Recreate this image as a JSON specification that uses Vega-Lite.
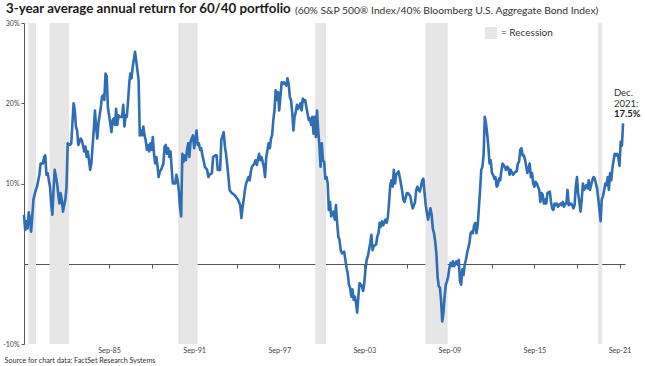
{
  "$schema": "https://vega.github.io/schema/vega-lite/v6.json",
  "width": 601,
  "height": 321,
  "autosize": {"type": "none"},
  "padding": {"left": 24, "top": 23, "right": 20, "bottom": 22},
  "background": "white",
  "config": {"view": {"stroke": null}, "font": "Lato"},
  "title": {
    "text": "3-year average annual return for 60/40 portfolio",
    "anchor": "start",
    "frame": "group",
    "dx": -18,
    "offset": -10,
    "font": "Lato",
    "fontSize": 13.3,
    "fontWeight": "bold",
    "color": "#1a1a1a"
  },
  "datasets": {
    "recessions": [
      {"start": "1979-12-19", "end": "1980-07-07", "kind": "Recession"},
      {"start": "1981-06-22", "end": "1982-11-04", "kind": "Recession"},
      {"start": "1990-07-19", "end": "1991-12-01", "kind": "Recession"},
      {"start": "2000-03-16", "end": "2000-12-19", "kind": "Recession"},
      {"start": "2007-12-25", "end": "2009-07-19", "kind": "Recession"},
      {"start": "2020-03-01", "end": "2020-06-13", "kind": "Recession"}
    ],
    "returns": [
      {"month": "1979-09-01", "ret": 6.1}, {"month": "1979-10-01", "ret": 4.2}, {"month": "1979-11-01", "ret": 5.3}, {"month": "1979-12-01", "ret": 4.4},
      {"month": "1980-01-01", "ret": 6.4}, {"month": "1980-02-01", "ret": 5.5}, {"month": "1980-03-01", "ret": 4.0}, {"month": "1980-04-01", "ret": 5.9},
      {"month": "1980-05-01", "ret": 8.0}, {"month": "1980-07-01", "ret": 9.2}, {"month": "1980-08-01", "ret": 9.6}, {"month": "1980-10-01", "ret": 11.1},
      {"month": "1980-11-01", "ret": 12.5}, {"month": "1981-01-01", "ret": 12.5}, {"month": "1981-02-01", "ret": 13.3}, {"month": "1981-03-01", "ret": 13.5},
      {"month": "1981-04-01", "ret": 11.1}, {"month": "1981-05-01", "ret": 11.3}, {"month": "1981-07-01", "ret": 9.6}, {"month": "1981-08-01", "ret": 7.5},
      {"month": "1981-09-01", "ret": 6.1}, {"month": "1981-10-01", "ret": 9.2}, {"month": "1981-11-01", "ret": 11.7}, {"month": "1982-01-01", "ret": 10.0},
      {"month": "1982-02-01", "ret": 8.6}, {"month": "1982-03-01", "ret": 7.5}, {"month": "1982-04-01", "ret": 8.8}, {"month": "1982-05-01", "ret": 8.0},
      {"month": "1982-06-01", "ret": 6.5}, {"month": "1982-08-01", "ret": 8.0}, {"month": "1982-09-01", "ret": 9.6}, {"month": "1982-10-01", "ret": 15.0},
      {"month": "1982-12-01", "ret": 14.8}, {"month": "1983-01-01", "ret": 15.0}, {"month": "1983-03-01", "ret": 20.0}, {"month": "1983-04-01", "ret": 19.1},
      {"month": "1983-05-01", "ret": 17.1}, {"month": "1983-06-01", "ret": 16.6}, {"month": "1983-07-01", "ret": 14.8}, {"month": "1983-09-01", "ret": 15.6},
      {"month": "1983-10-01", "ret": 15.4}, {"month": "1983-12-01", "ret": 14.0}, {"month": "1984-01-01", "ret": 14.6}, {"month": "1984-02-01", "ret": 13.3},
      {"month": "1984-03-01", "ret": 14.0}, {"month": "1984-04-01", "ret": 12.9}, {"month": "1984-05-01", "ret": 11.7}, {"month": "1984-06-01", "ret": 12.5},
      {"month": "1984-08-01", "ret": 16.6}, {"month": "1984-09-01", "ret": 19.1}, {"month": "1984-10-01", "ret": 17.1}, {"month": "1984-11-01", "ret": 15.6},
      {"month": "1984-12-01", "ret": 17.5}, {"month": "1985-02-01", "ret": 19.5}, {"month": "1985-03-01", "ret": 20.8}, {"month": "1985-04-01", "ret": 21.0},
      {"month": "1985-05-01", "ret": 20.4}, {"month": "1985-06-01", "ret": 23.7}, {"month": "1985-07-01", "ret": 23.4}, {"month": "1985-08-01", "ret": 19.5},
      {"month": "1985-10-01", "ret": 17.5}, {"month": "1985-11-01", "ret": 16.4}, {"month": "1985-12-01", "ret": 17.9}, {"month": "1986-01-01", "ret": 18.1},
      {"month": "1986-02-01", "ret": 17.3}, {"month": "1986-03-01", "ret": 19.3}, {"month": "1986-04-01", "ret": 17.3}, {"month": "1986-05-01", "ret": 18.5},
      {"month": "1986-06-01", "ret": 18.3}, {"month": "1986-08-01", "ret": 18.3}, {"month": "1986-09-01", "ret": 19.8}, {"month": "1986-10-01", "ret": 17.1},
      {"month": "1986-11-01", "ret": 18.5}, {"month": "1986-12-01", "ret": 18.3}, {"month": "1987-01-01", "ret": 20.2}, {"month": "1987-02-01", "ret": 22.4},
      {"month": "1987-03-01", "ret": 23.7}, {"month": "1987-04-01", "ret": 23.1}, {"month": "1987-05-01", "ret": 24.5}, {"month": "1987-07-01", "ret": 26.4},
      {"month": "1987-08-01", "ret": 25.3}, {"month": "1987-09-01", "ret": 24.1}, {"month": "1987-10-01", "ret": 22.9}, {"month": "1987-11-01", "ret": 16.0},
      {"month": "1987-12-01", "ret": 16.6}, {"month": "1988-01-01", "ret": 16.0}, {"month": "1988-02-01", "ret": 17.1}, {"month": "1988-03-01", "ret": 16.0},
      {"month": "1988-04-01", "ret": 15.4}, {"month": "1988-05-01", "ret": 14.2}, {"month": "1988-06-01", "ret": 14.8}, {"month": "1988-07-01", "ret": 14.0},
      {"month": "1988-08-01", "ret": 15.0}, {"month": "1988-09-01", "ret": 14.2}, {"month": "1988-10-01", "ret": 15.8}, {"month": "1988-11-01", "ret": 13.7},
      {"month": "1988-12-01", "ret": 12.5}, {"month": "1989-01-01", "ret": 13.3}, {"month": "1989-02-01", "ret": 12.1}, {"month": "1989-03-01", "ret": 10.8},
      {"month": "1989-04-01", "ret": 11.5}, {"month": "1989-05-01", "ret": 11.7}, {"month": "1989-07-01", "ret": 12.5}, {"month": "1989-08-01", "ret": 14.6},
      {"month": "1989-09-01", "ret": 14.8}, {"month": "1989-10-01", "ret": 13.7}, {"month": "1989-11-01", "ret": 14.4}, {"month": "1989-12-01", "ret": 13.3},
      {"month": "1990-01-01", "ret": 14.0}, {"month": "1990-02-01", "ret": 11.7}, {"month": "1990-03-01", "ret": 10.0}, {"month": "1990-04-01", "ret": 10.0},
      {"month": "1990-05-01", "ret": 10.0}, {"month": "1990-06-01", "ret": 11.1}, {"month": "1990-07-01", "ret": 10.4}, {"month": "1990-08-01", "ret": 9.2},
      {"month": "1990-09-01", "ret": 7.1}, {"month": "1990-10-01", "ret": 5.9}, {"month": "1990-11-01", "ret": 13.7}, {"month": "1990-12-01", "ret": 12.7},
      {"month": "1991-01-01", "ret": 13.5}, {"month": "1991-02-01", "ret": 12.9}, {"month": "1991-03-01", "ret": 14.2}, {"month": "1991-04-01", "ret": 15.0},
      {"month": "1991-05-01", "ret": 13.3}, {"month": "1991-06-01", "ret": 15.2}, {"month": "1991-07-01", "ret": 15.6}, {"month": "1991-08-01", "ret": 16.0},
      {"month": "1991-09-01", "ret": 14.4}, {"month": "1991-10-01", "ret": 15.4}, {"month": "1991-11-01", "ret": 16.6}, {"month": "1991-12-01", "ret": 14.8},
      {"month": "1992-01-01", "ret": 15.0}, {"month": "1992-02-01", "ret": 14.2}, {"month": "1992-03-01", "ret": 14.4}, {"month": "1992-04-01", "ret": 13.5},
      {"month": "1992-05-01", "ret": 12.9}, {"month": "1992-06-01", "ret": 12.1}, {"month": "1992-08-01", "ret": 11.7}, {"month": "1992-09-01", "ret": 10.8},
      {"month": "1992-10-01", "ret": 11.1}, {"month": "1992-12-01", "ret": 11.3}, {"month": "1993-01-01", "ret": 13.3}, {"month": "1993-03-01", "ret": 13.5},
      {"month": "1993-04-01", "ret": 13.5}, {"month": "1993-05-01", "ret": 11.7}, {"month": "1993-07-01", "ret": 11.7}, {"month": "1993-08-01", "ret": 15.4},
      {"month": "1993-10-01", "ret": 16.4}, {"month": "1993-11-01", "ret": 14.6}, {"month": "1993-12-01", "ret": 13.7}, {"month": "1994-02-01", "ret": 10.8},
      {"month": "1994-03-01", "ret": 9.2}, {"month": "1994-05-01", "ret": 8.8}, {"month": "1994-07-01", "ret": 8.6}, {"month": "1994-08-01", "ret": 8.4},
      {"month": "1994-10-01", "ret": 8.0}, {"month": "1994-12-01", "ret": 7.3}, {"month": "1995-01-01", "ret": 5.7}, {"month": "1995-02-01", "ret": 7.1},
      {"month": "1995-03-01", "ret": 8.0}, {"month": "1995-04-01", "ret": 9.2}, {"month": "1995-05-01", "ret": 10.0}, {"month": "1995-07-01", "ret": 10.8},
      {"month": "1995-08-01", "ret": 10.4}, {"month": "1995-09-01", "ret": 11.5}, {"month": "1995-10-01", "ret": 12.1}, {"month": "1995-12-01", "ret": 12.5},
      {"month": "1996-01-01", "ret": 12.9}, {"month": "1996-02-01", "ret": 12.3}, {"month": "1996-04-01", "ret": 13.7}, {"month": "1996-05-01", "ret": 12.9},
      {"month": "1996-06-01", "ret": 13.3}, {"month": "1996-08-01", "ret": 12.1}, {"month": "1996-09-01", "ret": 10.8}, {"month": "1996-10-01", "ret": 13.3},
      {"month": "1996-12-01", "ret": 15.0}, {"month": "1997-01-01", "ret": 14.4}, {"month": "1997-02-01", "ret": 15.6}, {"month": "1997-03-01", "ret": 16.0},
      {"month": "1997-04-01", "ret": 17.9}, {"month": "1997-05-01", "ret": 19.1}, {"month": "1997-06-01", "ret": 21.6}, {"month": "1997-07-01", "ret": 20.4},
      {"month": "1997-08-01", "ret": 21.4}, {"month": "1997-09-01", "ret": 19.1}, {"month": "1997-10-01", "ret": 20.8}, {"month": "1997-11-01", "ret": 22.6},
      {"month": "1997-12-01", "ret": 22.4}, {"month": "1998-01-01", "ret": 22.6}, {"month": "1998-03-01", "ret": 22.2}, {"month": "1998-04-01", "ret": 23.1},
      {"month": "1998-05-01", "ret": 22.4}, {"month": "1998-06-01", "ret": 20.8}, {"month": "1998-07-01", "ret": 20.4}, {"month": "1998-08-01", "ret": 18.9},
      {"month": "1998-09-01", "ret": 16.6}, {"month": "1998-10-01", "ret": 18.3}, {"month": "1998-11-01", "ret": 18.9}, {"month": "1998-12-01", "ret": 19.8},
      {"month": "1999-01-01", "ret": 19.3}, {"month": "1999-03-01", "ret": 20.0}, {"month": "1999-04-01", "ret": 19.1}, {"month": "1999-05-01", "ret": 20.6},
      {"month": "1999-06-01", "ret": 20.2}, {"month": "1999-07-01", "ret": 20.4}, {"month": "1999-08-01", "ret": 19.5}, {"month": "1999-09-01", "ret": 18.7},
      {"month": "1999-10-01", "ret": 17.9}, {"month": "1999-11-01", "ret": 18.1}, {"month": "1999-12-01", "ret": 17.3}, {"month": "2000-01-01", "ret": 18.3},
      {"month": "2000-02-01", "ret": 16.2}, {"month": "2000-03-01", "ret": 18.3}, {"month": "2000-04-01", "ret": 15.8}, {"month": "2000-05-01", "ret": 19.1},
      {"month": "2000-06-01", "ret": 16.6}, {"month": "2000-07-01", "ret": 14.8}, {"month": "2000-08-01", "ret": 12.1}, {"month": "2000-09-01", "ret": 15.0},
      {"month": "2000-10-01", "ret": 12.9}, {"month": "2000-11-01", "ret": 12.7}, {"month": "2000-12-01", "ret": 10.6}, {"month": "2001-01-01", "ret": 10.8},
      {"month": "2001-02-01", "ret": 10.0}, {"month": "2001-03-01", "ret": 6.7}, {"month": "2001-04-01", "ret": 7.7}, {"month": "2001-05-01", "ret": 5.9},
      {"month": "2001-07-01", "ret": 6.5}, {"month": "2001-08-01", "ret": 5.5}, {"month": "2001-09-01", "ret": 7.3}, {"month": "2001-10-01", "ret": 5.1},
      {"month": "2001-11-01", "ret": 3.4}, {"month": "2001-12-01", "ret": 3.0}, {"month": "2002-01-01", "ret": 1.7}, {"month": "2002-02-01", "ret": 1.3},
      {"month": "2002-04-01", "ret": 1.5}, {"month": "2002-05-01", "ret": 0.5}, {"month": "2002-06-01", "ret": -0.5}, {"month": "2002-07-01", "ret": -1.2},
      {"month": "2002-08-01", "ret": -2.6}, {"month": "2002-09-01", "ret": -3.0}, {"month": "2002-10-01", "ret": -4.1}, {"month": "2002-11-01", "ret": -3.2},
      {"month": "2002-12-01", "ret": -4.5}, {"month": "2003-01-01", "ret": -4.1}, {"month": "2003-02-01", "ret": -4.9}, {"month": "2003-03-01", "ret": -6.1},
      {"month": "2003-04-01", "ret": -4.1}, {"month": "2003-05-01", "ret": -2.4}, {"month": "2003-07-01", "ret": -2.8}, {"month": "2003-08-01", "ret": -3.4},
      {"month": "2003-09-01", "ret": -2.4}, {"month": "2003-10-01", "ret": -0.7}, {"month": "2003-11-01", "ret": 0.5}, {"month": "2003-12-01", "ret": 0.9},
      {"month": "2004-01-01", "ret": 1.7}, {"month": "2004-02-01", "ret": 2.6}, {"month": "2004-03-01", "ret": 3.6}, {"month": "2004-04-01", "ret": 1.7},
      {"month": "2004-05-01", "ret": 2.2}, {"month": "2004-07-01", "ret": 2.4}, {"month": "2004-08-01", "ret": 3.4}, {"month": "2004-09-01", "ret": 3.8},
      {"month": "2004-10-01", "ret": 5.1}, {"month": "2004-11-01", "ret": 4.6}, {"month": "2004-12-01", "ret": 5.3}, {"month": "2005-01-01", "ret": 4.8},
      {"month": "2005-03-01", "ret": 5.5}, {"month": "2005-04-01", "ret": 5.1}, {"month": "2005-05-01", "ret": 5.9}, {"month": "2005-06-01", "ret": 7.7},
      {"month": "2005-07-01", "ret": 9.8}, {"month": "2005-08-01", "ret": 10.4}, {"month": "2005-09-01", "ret": 9.6}, {"month": "2005-10-01", "ret": 11.7},
      {"month": "2005-11-01", "ret": 10.0}, {"month": "2005-12-01", "ret": 11.1}, {"month": "2006-01-01", "ret": 11.3}, {"month": "2006-02-01", "ret": 11.5},
      {"month": "2006-03-01", "ret": 10.8}, {"month": "2006-05-01", "ret": 9.2}, {"month": "2006-06-01", "ret": 8.0}, {"month": "2006-07-01", "ret": 7.7},
      {"month": "2006-08-01", "ret": 8.2}, {"month": "2006-09-01", "ret": 8.8}, {"month": "2006-10-01", "ret": 8.8}, {"month": "2006-11-01", "ret": 8.6},
      {"month": "2006-12-01", "ret": 8.4}, {"month": "2007-01-01", "ret": 7.5}, {"month": "2007-02-01", "ret": 6.9}, {"month": "2007-04-01", "ret": 7.7},
      {"month": "2007-05-01", "ret": 9.2}, {"month": "2007-06-01", "ret": 9.6}, {"month": "2007-07-01", "ret": 9.2}, {"month": "2007-08-01", "ret": 9.0},
      {"month": "2007-09-01", "ret": 9.6}, {"month": "2007-10-01", "ret": 10.4}, {"month": "2007-11-01", "ret": 10.6}, {"month": "2007-12-01", "ret": 8.8},
      {"month": "2008-01-01", "ret": 7.3}, {"month": "2008-02-01", "ret": 6.3}, {"month": "2008-03-01", "ret": 5.5}, {"month": "2008-05-01", "ret": 6.9},
      {"month": "2008-06-01", "ret": 6.1}, {"month": "2008-07-01", "ret": 4.4}, {"month": "2008-08-01", "ret": 3.8}, {"month": "2008-09-01", "ret": 2.8},
      {"month": "2008-10-01", "ret": 1.3}, {"month": "2008-11-01", "ret": -1.6}, {"month": "2008-12-01", "ret": -2.8}, {"month": "2009-01-01", "ret": -3.0},
      {"month": "2009-02-01", "ret": -4.7}, {"month": "2009-03-01", "ret": -7.2}, {"month": "2009-04-01", "ret": -6.1}, {"month": "2009-05-01", "ret": -4.1},
      {"month": "2009-06-01", "ret": -2.6}, {"month": "2009-07-01", "ret": -2.2}, {"month": "2009-08-01", "ret": -1.6}, {"month": "2009-09-01", "ret": -0.5},
      {"month": "2009-10-01", "ret": 0.1}, {"month": "2009-11-01", "ret": -0.3}, {"month": "2009-12-01", "ret": 0.3}, {"month": "2010-01-01", "ret": -0.3},
      {"month": "2010-03-01", "ret": 0.3}, {"month": "2010-04-01", "ret": -0.1}, {"month": "2010-05-01", "ret": 0.5}, {"month": "2010-06-01", "ret": -2.2},
      {"month": "2010-07-01", "ret": -2.6}, {"month": "2010-08-01", "ret": -0.7}, {"month": "2010-09-01", "ret": -1.4}, {"month": "2010-10-01", "ret": -0.1},
      {"month": "2010-11-01", "ret": 0.5}, {"month": "2010-12-01", "ret": 1.3}, {"month": "2011-02-01", "ret": 2.6}, {"month": "2011-03-01", "ret": 3.8},
      {"month": "2011-04-01", "ret": 4.0}, {"month": "2011-05-01", "ret": 3.8}, {"month": "2011-06-01", "ret": 4.8}, {"month": "2011-07-01", "ret": 5.1},
      {"month": "2011-08-01", "ret": 3.8}, {"month": "2011-09-01", "ret": 4.8}, {"month": "2011-11-01", "ret": 9.2}, {"month": "2011-12-01", "ret": 11.7},
      {"month": "2012-01-01", "ret": 12.1}, {"month": "2012-02-01", "ret": 13.7}, {"month": "2012-03-01", "ret": 18.3}, {"month": "2012-04-01", "ret": 17.5},
      {"month": "2012-05-01", "ret": 16.2}, {"month": "2012-06-01", "ret": 14.6}, {"month": "2012-07-01", "ret": 12.5}, {"month": "2012-08-01", "ret": 12.9},
      {"month": "2012-09-01", "ret": 11.3}, {"month": "2012-10-01", "ret": 11.1}, {"month": "2012-11-01", "ret": 10.6}, {"month": "2012-12-01", "ret": 10.8},
      {"month": "2013-01-01", "ret": 9.6}, {"month": "2013-02-01", "ret": 9.8}, {"month": "2013-03-01", "ret": 10.6}, {"month": "2013-04-01", "ret": 10.4},
      {"month": "2013-05-01", "ret": 11.5}, {"month": "2013-06-01", "ret": 12.5}, {"month": "2013-07-01", "ret": 12.3}, {"month": "2013-09-01", "ret": 11.7},
      {"month": "2013-10-01", "ret": 12.1}, {"month": "2013-11-01", "ret": 11.9}, {"month": "2013-12-01", "ret": 11.1}, {"month": "2014-01-01", "ret": 11.7},
      {"month": "2014-02-01", "ret": 11.3}, {"month": "2014-03-01", "ret": 11.1}, {"month": "2014-05-01", "ret": 11.5}, {"month": "2014-06-01", "ret": 11.5},
      {"month": "2014-07-01", "ret": 12.5}, {"month": "2014-08-01", "ret": 12.7}, {"month": "2014-09-01", "ret": 14.2}, {"month": "2014-10-01", "ret": 14.4},
      {"month": "2014-11-01", "ret": 13.5}, {"month": "2014-12-01", "ret": 13.5}, {"month": "2015-01-01", "ret": 13.0}, {"month": "2015-02-01", "ret": 12.1},
      {"month": "2015-03-01", "ret": 11.3}, {"month": "2015-05-01", "ret": 12.5}, {"month": "2015-06-01", "ret": 10.8}, {"month": "2015-07-01", "ret": 11.3},
      {"month": "2015-08-01", "ret": 10.0}, {"month": "2015-09-01", "ret": 9.6}, {"month": "2015-10-01", "ret": 10.2}, {"month": "2015-11-01", "ret": 10.0},
      {"month": "2016-01-01", "ret": 9.2}, {"month": "2016-02-01", "ret": 7.7}, {"month": "2016-03-01", "ret": 8.8}, {"month": "2016-04-01", "ret": 8.6},
      {"month": "2016-05-01", "ret": 7.5}, {"month": "2016-06-01", "ret": 8.0}, {"month": "2016-07-01", "ret": 7.5}, {"month": "2016-08-01", "ret": 8.8},
      {"month": "2016-10-01", "ret": 9.0}, {"month": "2016-11-01", "ret": 7.7}, {"month": "2016-12-01", "ret": 6.9}, {"month": "2017-01-01", "ret": 6.7},
      {"month": "2017-02-01", "ret": 7.5}, {"month": "2017-03-01", "ret": 7.3}, {"month": "2017-04-01", "ret": 7.5}, {"month": "2017-05-01", "ret": 7.1},
      {"month": "2017-07-01", "ret": 7.5}, {"month": "2017-08-01", "ret": 7.3}, {"month": "2017-09-01", "ret": 7.7}, {"month": "2017-10-01", "ret": 7.1},
      {"month": "2017-11-01", "ret": 7.5}, {"month": "2017-12-01", "ret": 7.5}, {"month": "2018-01-01", "ret": 9.2}, {"month": "2018-02-01", "ret": 7.3},
      {"month": "2018-04-01", "ret": 7.5}, {"month": "2018-05-01", "ret": 7.3}, {"month": "2018-06-01", "ret": 6.9}, {"month": "2018-07-01", "ret": 7.3},
      {"month": "2018-08-01", "ret": 9.6}, {"month": "2018-09-01", "ret": 10.8}, {"month": "2018-10-01", "ret": 8.8}, {"month": "2018-11-01", "ret": 7.7},
      {"month": "2018-12-01", "ret": 6.5}, {"month": "2019-01-01", "ret": 8.0}, {"month": "2019-02-01", "ret": 10.0}, {"month": "2019-03-01", "ret": 9.2},
      {"month": "2019-05-01", "ret": 9.8}, {"month": "2019-06-01", "ret": 9.4}, {"month": "2019-07-01", "ret": 10.4}, {"month": "2019-08-01", "ret": 9.2},
      {"month": "2019-09-01", "ret": 9.8}, {"month": "2019-10-01", "ret": 10.4}, {"month": "2019-11-01", "ret": 10.8}, {"month": "2019-12-01", "ret": 10.6},
      {"month": "2020-02-01", "ret": 9.4}, {"month": "2020-03-01", "ret": 8.2}, {"month": "2020-04-01", "ret": 6.7}, {"month": "2020-05-01", "ret": 5.3},
      {"month": "2020-06-01", "ret": 8.0}, {"month": "2020-07-01", "ret": 8.4}, {"month": "2020-08-01", "ret": 9.2}, {"month": "2020-09-01", "ret": 10.0},
      {"month": "2020-10-01", "ret": 9.8}, {"month": "2020-11-01", "ret": 10.8}, {"month": "2020-12-01", "ret": 9.2}, {"month": "2021-01-01", "ret": 11.3},
      {"month": "2021-02-01", "ret": 10.4}, {"month": "2021-03-01", "ret": 11.9}, {"month": "2021-04-01", "ret": 12.9}, {"month": "2021-05-01", "ret": 13.7},
      {"month": "2021-06-01", "ret": 13.5}, {"month": "2021-07-01", "ret": 13.7}, {"month": "2021-08-01", "ret": 13.3}, {"month": "2021-09-01", "ret": 12.2},
      {"month": "2021-10-01", "ret": 15.2}, {"month": "2021-11-01", "ret": 14.7}, {"month": "2021-12-01", "ret": 17.5}
    ]
  },
  "layer": [
    {
      "data": {"name": "recessions"},
      "mark": {"type": "rect", "opacity": 1},
      "encoding": {
        "x": {
          "field": "start",
          "type": "temporal",
          "scale": {"domain": [{"year": 1979, "month": 9, "date": 1}, {"year": 2022, "month": 1, "date": 20}]},
          "axis": {
            "values": [
              {"year": 1982, "month": 9, "date": 1}, {"year": 1985, "month": 9, "date": 1}, {"year": 1988, "month": 9, "date": 1},
              {"year": 1991, "month": 9, "date": 1}, {"year": 1994, "month": 9, "date": 1}, {"year": 1997, "month": 9, "date": 1},
              {"year": 2000, "month": 9, "date": 1}, {"year": 2003, "month": 9, "date": 1}, {"year": 2006, "month": 9, "date": 1},
              {"year": 2009, "month": 9, "date": 1}, {"year": 2012, "month": 9, "date": 1}, {"year": 2015, "month": 9, "date": 1},
              {"year": 2018, "month": 9, "date": 1}, {"year": 2021, "month": 9, "date": 1}
            ],
            "labelExpr": "year(datum.value) % 6 == 5 ? timeFormat(datum.value, '%b-%y') : ''",
            "offset": -80,
            "tickSize": 4,
            "tickColor": "#555555",
            "domainColor": "#555555",
            "domainWidth": 1,
            "labelPadding": 78,
            "labelDx": -4,
            "labelFont": "Lato",
            "labelFontSize": 7.2,
            "labelColor": "#444444",
            "labelOverlap": false,
            "labelFlush": false,
            "grid": false,
            "title": "Source for chart data: FactSet Research Systems",
            "titleAnchor": "start",
            "titleAlign": "left",
            "titleX": -20,
            "titleY": 96,
            "titleBaseline": "middle",
            "titleFont": "Lato",
            "titleFontSize": 7.2,
            "titleFontWeight": "normal",
            "titleColor": "#333333"
          }
        },
        "x2": {"field": "end"},
        "color": {
          "field": "kind",
          "type": "nominal",
          "scale": {"range": ["#e6e6e6"]},
          "legend": {
            "orient": "none",
            "legendX": 461,
            "legendY": 4,
            "title": null,
            "padding": 0,
            "symbolType": "square",
            "symbolSize": 144,
            "symbolStrokeWidth": 0,
            "symbolOpacity": 1,
            "labelExpr": "'= ' + datum.label",
            "labelFont": "Lato",
            "labelFontSize": 10,
            "labelColor": "#333333",
            "labelOffset": 4
          }
        }
      }
    },
    {
      "data": {"name": "returns"},
      "mark": {"type": "line", "color": "#2f6db4", "strokeWidth": 2.6, "strokeJoin": "round"},
      "encoding": {
        "x": {"field": "month", "type": "temporal", "scale": {"domain": [{"year": 1979, "month": 9, "date": 1}, {"year": 2022, "month": 1, "date": 20}]}},
        "y": {
          "field": "ret",
          "type": "quantitative",
          "scale": {"domain": [-10, 30], "nice": false, "zero": false},
          "axis": {
            "values": [-10, 10, 20, 30],
            "labelExpr": "datum.value + '%'",
            "tickSize": 3,
            "tickColor": "#555555",
            "domainColor": "#555555",
            "labelPadding": 2,
            "labelFont": "Lato",
            "labelFontSize": 7,
            "labelColor": "#444444",
            "grid": false,
            "title": null
          }
        }
      }
    },
    {
      "data": {"values": [{}]},
      "mark": {"type": "text", "align": "left", "baseline": "alphabetic", "font": "Lato", "fontSize": 10.3, "color": "#333333"},
      "encoding": {
        "x": {"datum": {"year": 1998, "month": 10, "date": 10}, "type": "temporal"},
        "y": {"datum": 31.15, "type": "quantitative"},
        "text": {"value": "(60% S&P 500® Index/40% Bloomberg U.S. Aggregate Bond Index)"}
      }
    },
    {
      "data": {"values": [{}]},
      "mark": {"type": "text", "align": "left", "baseline": "alphabetic", "font": "Lato", "fontSize": 9.5, "color": "#333333", "lineHeight": 10.5},
      "encoding": {
        "x": {"datum": {"year": 2021, "month": 4, "date": 10}, "type": "temporal"},
        "y": {"datum": 20.9, "type": "quantitative"},
        "text": {"value": ["Dec.", "2021:"]}
      }
    },
    {
      "data": {"values": [{}]},
      "mark": {"type": "text", "align": "left", "baseline": "alphabetic", "font": "Lato", "fontSize": 9.5, "fontWeight": "bold", "color": "#1a1a1a"},
      "encoding": {
        "x": {"datum": {"year": 2021, "month": 4, "date": 10}, "type": "temporal"},
        "y": {"datum": 18.3, "type": "quantitative"},
        "text": {"value": "17.5%"}
      }
    }
  ]
}
